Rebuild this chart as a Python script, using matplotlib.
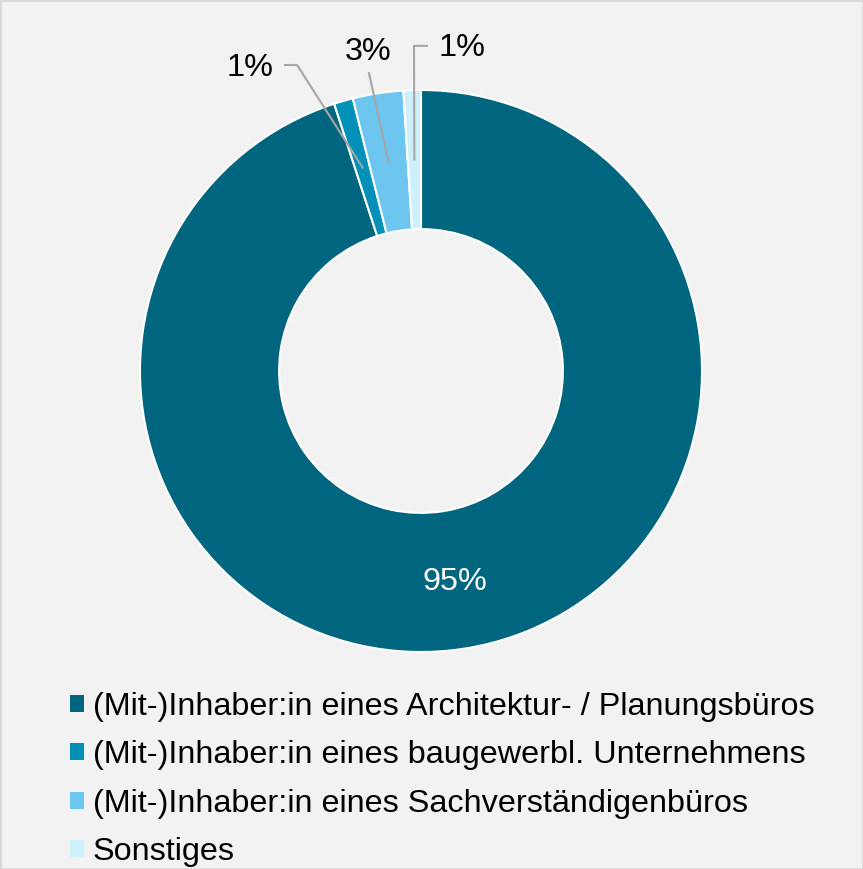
import matplotlib
matplotlib.use("Agg")
import matplotlib.pyplot as plt
import numpy as np
from matplotlib.patches import Patch, Rectangle

categories = [
    "(Mit-)Inhaber:in eines Architektur- / Planungsbüros",
    "(Mit-)Inhaber:in eines baugewerbl. Unternehmens",
    "(Mit-)Inhaber:in eines Sachverständigenbüros",
    "Sonstiges",
]
values = [95.0, 1.1, 2.9, 1.0]
labels = ["95%", "1%", "3%", "1%"]
colors = ["#00667F", "#0090B8", "#6CC6F0", "#CCF0FC"]

plt.rcParams['font.family'] = ['Liberation Sans', 'DejaVu Sans']

W, H = 863, 869
fig = plt.figure(figsize=(W / 100, H / 100), dpi=100)
fig.patch.set_facecolor("#F2F2F2")
fig.patches.append(Rectangle((0, 0), 1, 1, transform=fig.transFigure, fill=False,
                             edgecolor="#D9D9D9", linewidth=2, zorder=10))

cx, cy, R = 421, 371, 281
ax = fig.add_axes([(cx - R) / W, (H - cy - R) / H, 2 * R / W, 2 * R / H])
ax.set_facecolor("none")
wedges, _ = ax.pie(values, colors=colors, startangle=90, counterclock=False,
                   radius=1, wedgeprops=dict(width=0.495, edgecolor="white", linewidth=1.5))
ax.set_xlim(-1, 1)
ax.set_ylim(-1, 1)
ax.axis("off")

# mid angles
total = sum(values)
mids = []
ang = 90.0
for v in values:
    span = 360 * v / total
    mids.append(np.deg2rad(ang - span / 2))
    ang -= span

def pt(i, r=0.753):
    return r * np.cos(mids[i]), r * np.sin(mids[i])

fs = 23.3
# big label
x0, y0 = pt(0, 0.76)
ax.text(x0, y0, labels[0], color="white", fontsize=fs, ha="center", va="center")

lc = "#A6A6A6"
# baugewerbl
ex, ey = pt(1)
ax.plot([-0.484, -0.441, ex], [1.089, 1.089, ey], color=lc, lw=1.5, clip_on=False)
ax.text(-0.609, 1.078, labels[1], fontsize=fs, ha="center", va="center")
# Sachverst
ex, ey = pt(2)
ax.plot([-0.185, ex], [1.060, ey], color=lc, lw=1.5, clip_on=False)
ax.text(-0.189, 1.135, labels[2], fontsize=fs, ha="center", va="center")
# Sonstiges
ex, ey = pt(3)
ax.plot([0.021, -0.025, ex], [1.157, 1.157, ey], color=lc, lw=1.5, clip_on=False)
ax.text(0.146, 1.149, labels[3], fontsize=fs, ha="center", va="center")

handles = [Patch(facecolor=c, edgecolor="none") for c in colors]
fig.legend(handles, categories, loc="upper left", bbox_to_anchor=(70 / W, 1 - 692 / H),
           frameon=False, fontsize=fs, handlelength=0.43, handleheight=0.43,
           handletextpad=0.28, labelspacing=0.565, borderaxespad=0, borderpad=0)

fig.savefig("out.png", dpi=100, facecolor=fig.get_facecolor())
